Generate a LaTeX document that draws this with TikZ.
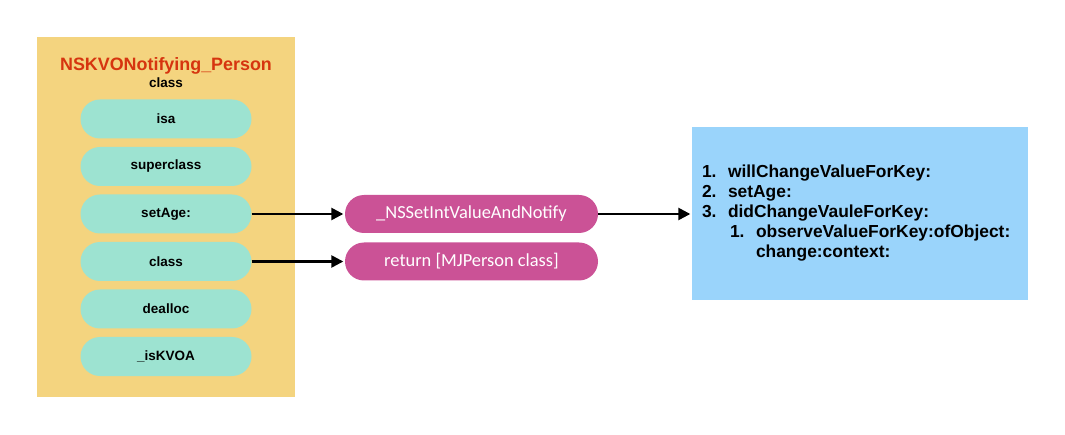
\documentclass[tikz,border=0pt]{standalone}
\usepackage{xcolor}
\usepackage{fontspec}
\setmainfont{Liberation Sans}
\newfontfamily\calibri{Carlito}
\usepackage{tikz}
\usetikzlibrary{arrows.meta}

\definecolor{classbg}{HTML}{F4D47F}
\definecolor{methodbg}{HTML}{9DE3D1}
\definecolor{implbg}{HTML}{CB5296}
\definecolor{stepsbg}{HTML}{9AD4FB}
\definecolor{titlered}{HTML}{D6350F}

\tikzset{
	method/.style = {fill = methodbg, rounded corners = 19.5pt, minimum width = 171pt,
		minimum height = 39pt, inner sep = 0pt, font = \bfseries\fontsize{13.5}{16}\selectfont},
	impl/.style = {fill = implbg, rounded corners = 19pt, minimum width = 253pt,
		minimum height = 38pt, inner sep = 0pt, text = white, font = \calibri\fontsize{18.4}{20}\selectfont},
}

\begin{document}
\begin{tikzpicture}[x = 1pt, y = -1pt]
	\def\mx{166};
	\def\ix{471.5};

	\useasboundingbox (0,0) rectangle (1065,435);

	% the KVO subclass
	\node [fill = classbg, minimum width = 258pt, minimum height = 360pt, inner sep = 0pt] (kvoclass) at (\mx,217) {};
	\node [text = titlered, font = \bfseries\fontsize{17.9}{20}\selectfont, inner sep = 0pt] (title) at (\mx,66) {NSKVONotifying\_Person};
	\node [font = \bfseries\fontsize{13.5}{15}\selectfont, inner sep = 0pt] (kind) at (\mx,83) {class};

	\node [method] (isa) at (\mx,119) {isa};
	\node [method] (superclass) at (\mx,166.5) {superclass};
	\node [method] (setage) at (\mx,214) {setAge:};
	\node [method] (class) at (\mx,261.5) {class};
	\node [method] (dealloc) at (\mx,309) {dealloc};
	\node [method] (iskvoa) at (\mx,356.5) {\_isKVOA};

	% implementations
	\node [impl] (notify) at (\ix,214) {\_NSSetIntValueAndNotify};
	\node [impl] (giveback) at (\ix,261.5) {return [MJPerson class]};

	\node [fill = stepsbg, minimum width = 336pt, minimum height = 173pt, text width = 316pt,
		inner xsep = 10pt, align = left, font = \bfseries\fontsize{17.4}{20}\selectfont] (steps) at (860,213.5)
		{\makebox[26pt][l]{1.}willChangeValueForKey:\\
		 \makebox[26pt][l]{2.}setAge:\\
		 \makebox[26pt][l]{3.}didChangeVauleForKey:\\
		 \hspace*{28pt}\makebox[26pt][l]{1.}observeValueForKey:ofObject:\\
		 \hspace*{54pt}change:context:};

	\begin{scope}[-{Triangle[length = 12pt, width = 12pt]}, line width = 2.5pt, shorten > = 1.5pt]
		\draw (setage) -- (notify);
		\draw (class) -- (giveback);
		\draw (notify.east) -- (notify.east -| steps.west);
	\end{scope}
\end{tikzpicture}
\end{document}
